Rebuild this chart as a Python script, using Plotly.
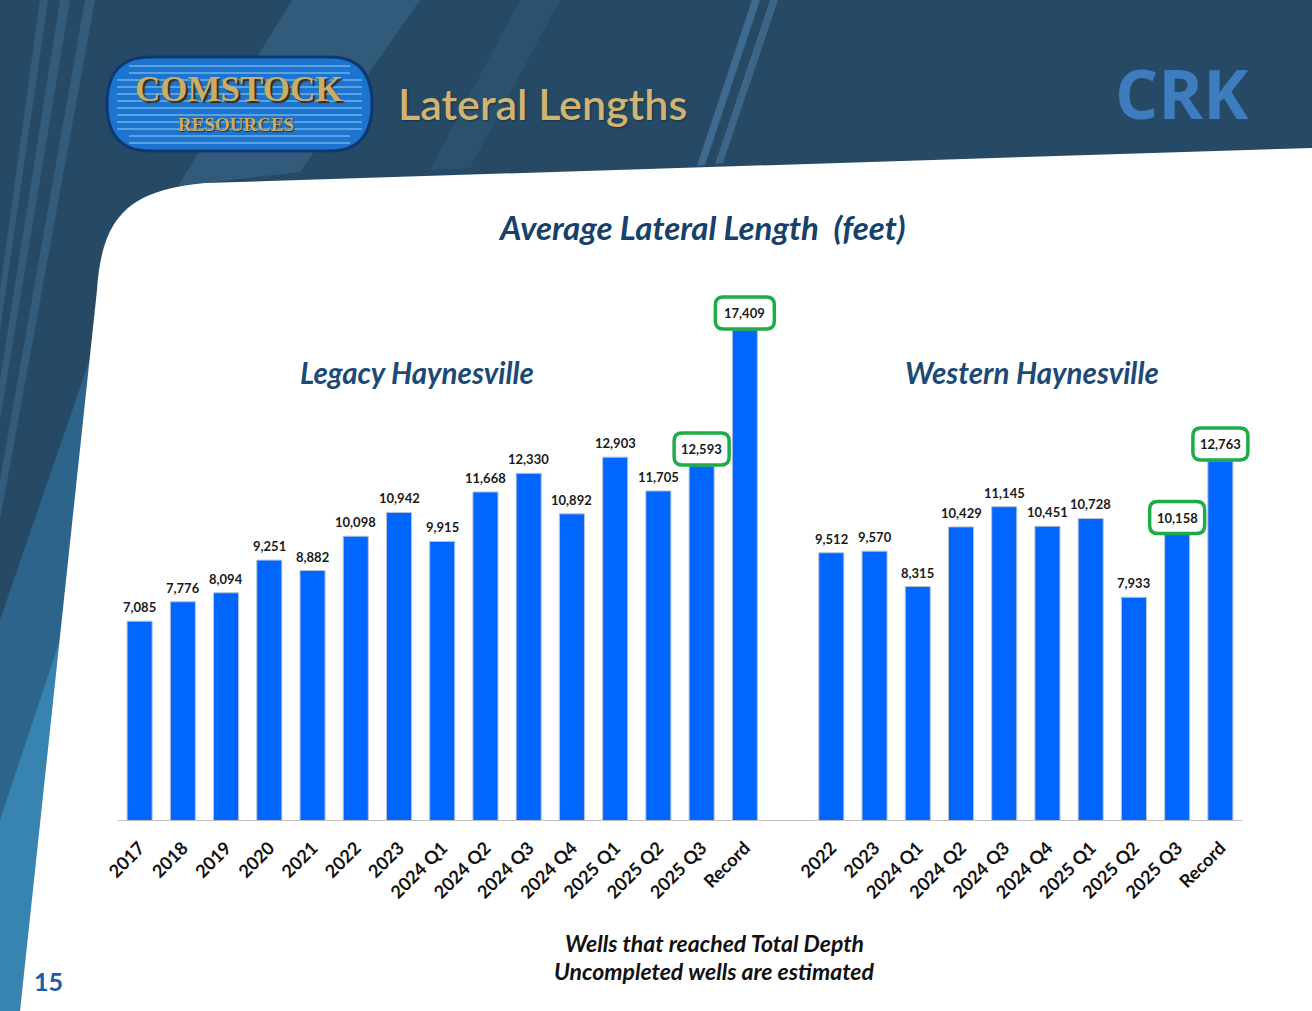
import plotly.graph_objects as go

# Среднее значение длины горизонтального участка, футы
LEGACY_LABELS = ["2017", "2018", "2019", "2020", "2021", "2022", "2023",
                 "2024 Q1", "2024 Q2", "2024 Q3", "2024 Q4",
                 "2025 Q1", "2025 Q2", "2025 Q3", "Record"]
LEGACY_VALUES = [7085, 7776, 8094, 9251, 8882, 10098, 10942,
                 9915, 11668, 12330, 10892, 12903, 11705, 12593, 17409]

WESTERN_LABELS = ["2022", "2023", "2024 Q1", "2024 Q2", "2024 Q3", "2024 Q4",
                  "2025 Q1", "2025 Q2", "2025 Q3", "Record"]
WESTERN_VALUES = [9512, 9570, 8315, 10429, 11145, 10451, 10728, 7933, 10158, 12763]

HIGHLIGHT = ["2025 Q3", "Record"]

W, H = 1312, 1011
NAVY = "#264a66"
BAR_BLUE = "#0066ff"
TITLE_BLUE = "#17406b"
GREEN = "#1fab47"
GOLD = "#d0b472"

# ось: видимая линия 118..1242 px, область построения чуть шире, чтобы рамки не обрезались
AXIS_L, AXIS_R, PLOT_R = 118, 1242, 1262


def px(x):
    return x / W


def py(y):
    return 1 - y / H


def paper_path(points, close=True):
    s = "M " + " L ".join(f"{px(x):.5f},{py(y):.5f}" for x, y in points)
    return s + (" Z" if close else "")


def rounded_box(w, h, r, b):
    # путь в пикселях относительно вершины столбца
    l, rt, t = -w / 2, w / 2, b + h
    return (f"M {l + r},{b} L {rt - r},{b} Q {rt},{b} {rt},{b + r} "
            f"L {rt},{t - r} Q {rt},{t} {rt - r},{t} L {l + r},{t} "
            f"Q {l},{t} {l},{t - r} L {l},{b + r} Q {l},{b} {l + r},{b} Z")


legacy_x = list(range(len(LEGACY_LABELS)))
western_x = [len(LEGACY_LABELS) + 1 + i for i in range(len(WESTERN_LABELS))]
all_x = legacy_x + western_x
all_labels = LEGACY_LABELS + WESTERN_LABELS
all_values = LEGACY_VALUES + WESTERN_VALUES

n_slots = len(all_x) + 1
slot_px = (AXIS_R - AXIS_L) / n_slots
x_max = len(all_x) + 0.5 + (PLOT_R - AXIS_R) / slot_px

fig = go.Figure()
fig.add_trace(go.Bar(
    x=all_x, y=all_values, width=0.58,
    marker=dict(color=BAR_BLUE, line=dict(color="#b9c3d3", width=1)),
    hoverinfo="y", showlegend=False,
))

shapes = []

# ---- фон слайда ----
streaks = [
    ([(292, 0), (420, 0), (300, 172), (178, 186)], "rgba(90,150,200,0.22)"),
    ([(520, 0), (560, 0), (470, 168), (430, 170)], "rgba(90,150,200,0.10)"),
    ([(752, 0), (760, 0), (705, 165), (697, 166)], "rgba(110,170,220,0.35)"),
    ([(770, 0), (778, 0), (723, 163), (715, 164)], "rgba(110,170,220,0.30)"),
    ([(40, 0), (48, 0), (0, 330), (0, 290)], "rgba(110,170,220,0.18)"),
    ([(60, 0), (70, 0), (0, 420), (0, 380)], "rgba(110,170,220,0.18)"),
    ([(85, 0), (95, 0), (0, 520), (0, 480)], "rgba(110,170,220,0.18)"),
    ([(0, 620), (100, 330), (75, 560), (20, 1011), (0, 1011)], "rgba(60,150,210,0.35)"),
    ([(0, 820), (60, 640), (20, 1011), (0, 1011)], "rgba(70,170,225,0.45)"),
]
for pts, col in streaks:
    shapes.append(dict(type="path", xref="paper", yref="paper", layer="below",
                       path=paper_path(pts), fillcolor=col, line=dict(width=0)))

# белая панель
panel = (f"M {px(205):.5f},{py(183):.5f} L {px(1312):.5f},{py(148):.5f} "
         f"L {px(1312):.5f},{py(1011):.5f} L {px(20):.5f},{py(1011):.5f} "
         f"L {px(97):.5f},{py(290):.5f} "
         f"C {px(102):.5f},{py(215):.5f} {px(130):.5f},{py(190):.5f} {px(205):.5f},{py(183):.5f} Z")
shapes.append(dict(type="path", xref="paper", yref="paper", layer="below",
                   path=panel, fillcolor="white", line=dict(width=0)))

# логотип: синяя «таблетка» с полосами
pill = (f"M {px(150):.5f},{py(57):.5f} L {px(330):.5f},{py(57):.5f} "
        f"Q {px(372):.5f},{py(57):.5f} {px(372):.5f},{py(104):.5f} "
        f"Q {px(372):.5f},{py(151):.5f} {px(330):.5f},{py(151):.5f} "
        f"L {px(150):.5f},{py(151):.5f} "
        f"Q {px(107):.5f},{py(151):.5f} {px(107):.5f},{py(104):.5f} "
        f"Q {px(107):.5f},{py(57):.5f} {px(150):.5f},{py(57):.5f} Z")
shapes.append(dict(type="path", xref="paper", yref="paper", layer="below",
                   path=pill, fillcolor="#1c74cf", line=dict(color="#0c3a70", width=3)))
for yy in range(66, 146, 7):
    inset = 22 if yy < 78 or yy > 134 else 10
    shapes.append(dict(type="line", xref="paper", yref="paper", layer="below",
                       x0=px(107 + inset), x1=px(372 - inset), y0=py(yy), y1=py(yy),
                       line=dict(color="rgba(140,200,250,0.55)", width=2)))

# линия оси категорий
shapes.append(dict(type="line", xref="paper", yref="y", layer="above",
                   x0=px(AXIS_L), x1=px(AXIS_R), y0=0, y1=0,
                   line=dict(color="#bfbfbf", width=2)))

# зелёные рамки вокруг выделенных подписей
for xi, lab, val in zip(all_x, all_labels, all_values):
    if lab in HIGHLIGHT:
        txt_w = 59 if val >= 15000 else 55
        shapes.append(dict(type="path", xref="x", yref="y", layer="above",
                           xsizemode="pixel", ysizemode="pixel",
                           xanchor=xi, yanchor=val,
                           path=rounded_box(txt_w, 32, 8, 1),
                           fillcolor="white", line=dict(color=GREEN, width=3.5)))

annotations = []
for xi, lab, val in zip(all_x, all_labels, all_values):
    boxed = lab in HIGHLIGHT
    annotations.append(dict(
        x=xi, y=val, xref="x", yref="y", text=f"{val:,}", showarrow=False,
        yanchor="middle", yshift=17 if boxed else 14,
        font=dict(family="Lato", size=13, color="#1a1a1a", weight="bold"),
    ))


def note(text, x, y, size, color, family="Lato", style="italic", weight="bold", shadow=None):
    f = dict(family=family, size=size, color=color, style=style, weight=weight)
    if shadow:
        f["shadow"] = shadow
    annotations.append(dict(text=text, x=px(x), y=py(y), xref="paper", yref="paper",
                            showarrow=False, xanchor="center", yanchor="middle", font=f))


note("Average Lateral Length  (feet)", 702, 227, 33, TITLE_BLUE)
note("Legacy Haynesville", 417, 372, 29.5, "#1c4a74")
note("Western Haynesville", 1032, 372, 29.5, "#1c4a74")
note("Wells that reached Total Depth", 714, 943, 23, "#111111")
note("Uncompleted wells are estimated", 714, 971, 23, "#111111")
note("15", 48, 981, 25, "#1f5aa6", style="normal")
note("Lateral Lengths", 542, 103, 43, GOLD, style="normal", weight=600,
     shadow="1px 1px 2px #1a3044")
note("CRK", 1182, 93, 68, "#3d7cbf", family="Open Sans", style="normal")
note("COMSTOCK", 238, 90, 35, "#c9ad6c", family="Liberation Serif",
     style="normal", shadow="2px 2px 1px #3a2a10")
note("RESOURCES", 236, 125, 19, "#c9ad6c", family="Liberation Serif",
     style="normal", shadow="1px 1px 1px #3a2a10")

fig.update_layout(
    width=W, height=H,
    margin=dict(l=0, r=0, t=0, b=0),
    paper_bgcolor=NAVY, plot_bgcolor="rgba(0,0,0,0)",
    shapes=shapes, annotations=annotations,
    xaxis=dict(
        domain=[px(AXIS_L), px(PLOT_R)], range=[-0.5, x_max],
        tickmode="array", tickvals=all_x, ticktext=all_labels, tickangle=-45,
        tickfont=dict(family="Lato", size=18, color="#111111", weight="bold"),
        ticklabelstandoff=12,
        showline=False, showgrid=False, zeroline=False, ticks="", automargin=False,
    ),
    yaxis=dict(
        domain=[py(821), py(257)], range=[0, 20000], visible=False, automargin=False,
    ),
)

fig.write_html("out.html", config={"displayModeBar": False},
               post_script="document.body.style.margin='0';")
